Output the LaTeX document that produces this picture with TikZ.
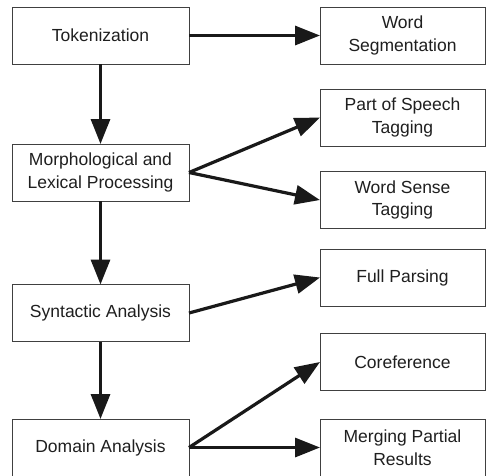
\documentclass[tikz,border=0pt]{standalone}
\usepackage{fontspec}
\setmainfont{Liberation Sans}
\usetikzlibrary{arrows.meta}
\begin{document}
\begin{tikzpicture}[x=1pt,y=-1pt,
  box/.style={draw=black!75, line width=0.9pt, fill=white, outer sep=0pt,
    inner sep=0pt, align=center, text=black!88,
    font=\fontsize{17.5}{22.5}\selectfont},
  leftbox/.style={box, minimum width=177pt, minimum height=57pt},
  rightbox/.style={box, minimum width=165pt, minimum height=57pt},
  flow/.style={draw=black!90, line width=3.2pt,
    -{Triangle[length=25pt,width=19pt]}}
]
\clip (0,0) rectangle (486,475);
\fill[white] (0,0) rectangle (486,475);

% processing stages
\node[leftbox] (tok)   at (100.5,35.5)  {Tokenization};
\node[leftbox] (morph) at (100.5,172.5) {Morphological and\\Lexical Processing};
\node[leftbox] (syn)   at (100.5,313)   {Syntactic Analysis};
\node[leftbox] (dom)   at (100.5,447.5) {Domain Analysis};

% outputs of each stage
\node[rightbox] (ws)    at (402.5,35.5)  {Word\\Segmentation};
\node[rightbox] (pos)   at (402.5,117.5) {Part of Speech\\Tagging};
\node[rightbox] (wst)   at (402.5,200)   {Word Sense\\Tagging};
\node[rightbox] (fp)    at (402.5,277.5) {Full Parsing};
\node[rightbox] (coref) at (402.5,362)   {Coreference};
\node[rightbox] (merge) at (402.5,447.5) {Merging Partial\\Results};

% pipeline
\draw[flow] (tok)   -- (morph);
\draw[flow] (morph) -- (syn);
\draw[flow] (syn)   -- (dom);

% branches
\draw[flow] (tok.east)   -- (ws.west);
\draw[flow] (morph.east) -- (pos.west);
\draw[flow] (morph.east) -- (wst.west);
\draw[flow] (syn.east)   -- (fp.west);
\draw[flow] (dom.east)   -- (coref.west);
\draw[flow] (dom.east)   -- (merge.west);
\end{tikzpicture}
\end{document}
